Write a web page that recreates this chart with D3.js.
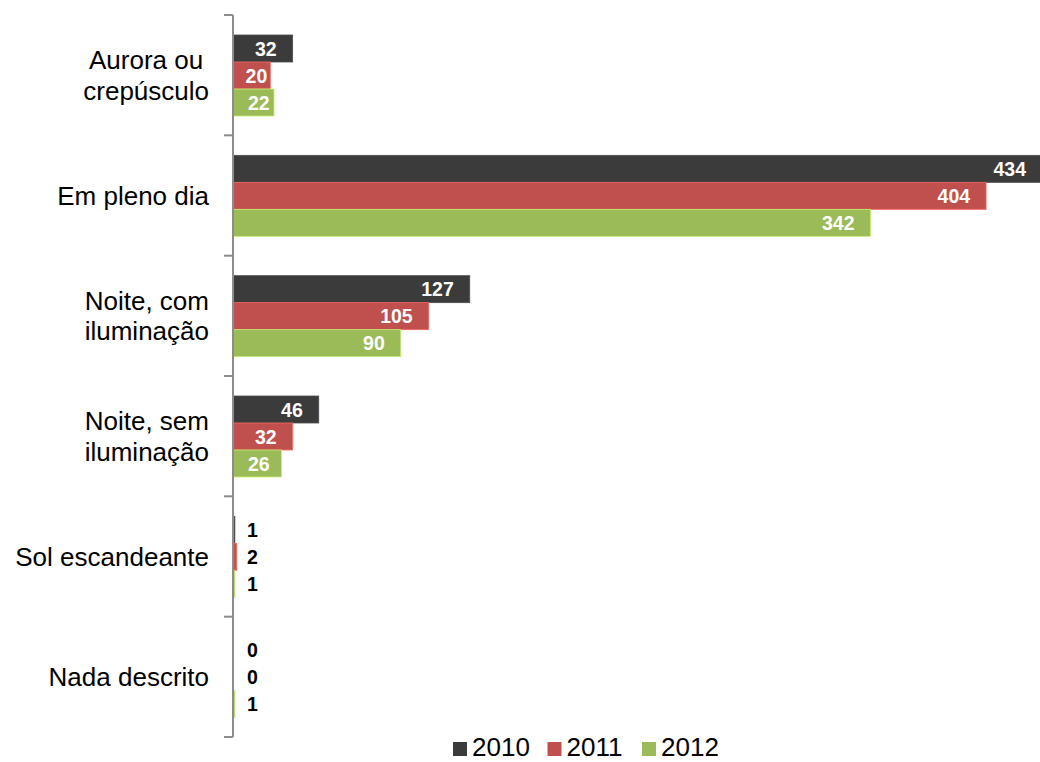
<!DOCTYPE html>
<html>
<head>
<meta charset="utf-8">
<script src="https://cdn.jsdelivr.net/npm/d3@7"></script>
<style>
  body { margin: 0; background: #fff; }
  svg { display: block; }
  svg text { font-family: Arial, Helvetica, "Liberation Sans", sans-serif; }
  .axis line, .axis path { stroke: #8c8c8c; stroke-width: 2; }
  .catLabel { font-size: 26px; fill: #000; }
  .valLabel { font-size: 19.5px; font-weight: bold; }
  .legendText { font-size: 26px; fill: #000; }
</style>
</head>
<body>
<svg id="chart" width="1040" height="762"></svg>
<script>
// chart data
const categories = ['Aurora ou crepúsculo', 'Em pleno dia', 'Noite, com iluminação', 'Noite, sem iluminação', 'Sol escandeante', 'Nada descrito']
const categoryLines = [['Aurora ou', 'crepúsculo'], ['Em pleno dia'], ['Noite, com', 'iluminação'], ['Noite, sem', 'iluminação'], ['Sol escandeante'], ['Nada descrito']]
const years = ['2010', '2011', '2012']
const values2010 = [32, 434, 127, 46, 1, 0]
const values2011 = [20, 404, 105, 32, 2, 0]
const values2012 = [22, 342, 90, 26, 1, 1]
const colors = ['#3b3b3b', '#c0504d', '#9bbb59']

const seriesValues = [values2010, values2011, values2012]
const rows = []
categories.forEach((cat, i) => {
    years.forEach((yr, j) => {
        rows.push({ category: cat, year: yr, value: seriesValues[j][i], color: colors[j] })
    })
})

const svg = d3.select('#chart')

const xScale = d3.scaleLinear().domain([0, 434]).range([233, 1042])
const yScale = d3.scaleBand().domain(categories).range([15, 737]).padding(0)
const yInner = d3.scaleBand().domain(years).range([20, 101]).padding(0)

// bars
svg.selectAll('.bar')
    .data(rows)
    .enter()
    .append('rect')
    .classed('bar', true)
    .attr('x', xScale(0))
    .attr('y', d => yScale(d.category) + yInner(d.year))
    .attr('width', d => xScale(d.value) - xScale(0))
    .attr('height', yInner.bandwidth())
    .attr('fill', d => d.color)
    .attr('stroke', d => d.value > 0 ? d3.color(d.color).brighter(0.7) : 'none')
    .attr('stroke-width', 0.8)

// value labels: white inside the bar end when it fits, otherwise black just right of the axis
const fits = d => xScale(d.value) - xScale(0) > 30
const labels = svg.selectAll('.valLabel')
    .data(rows)
    .enter()
    .append('text')
    .classed('valLabel', true)
    .text(d => d.value)
    .attr('y', d => yScale(d.category) + yInner(d.year) + yInner.bandwidth() / 2)
    .attr('dy', '0.36em')
    .attr('fill', d => fits(d) ? '#fff' : '#000')

labels.each(function(d) {
    const w = this.getComputedTextLength()
    const end = xScale(d.value)
    let left = xScale(0) + 14
    if (fits(d)) {
        left = Math.max(end - 16 - w, xScale(0) + 15)
        left = Math.min(left, end - 3 - w)
    }
    d3.select(this).attr('x', left)
})

// y axis with ticks between categories
const axis = svg.append('g').classed('axis', true)
axis.append('line')
    .attr('x1', 233).attr('x2', 233)
    .attr('y1', yScale.range()[0]).attr('y2', yScale.range()[1])
const tickPos = categories.map(c => yScale(c)).concat([yScale.range()[1]])
axis.selectAll('.tick')
    .data(tickPos)
    .enter()
    .append('line')
    .attr('x1', 224).attr('x2', 233)
    .attr('y1', d => d).attr('y2', d => d)

// category labels, lines centred on each other, block right aligned
const lineHeight = 30.5
categories.forEach((cat, i) => {
    const lines = categoryLines[i]
    const g = svg.append('g')
    const cy = yScale(cat) + yScale.bandwidth() / 2
    const texts = lines.map((ln, k) => g.append('text')
        .classed('catLabel', true)
        .text(ln)
        .attr('y', cy + (k - (lines.length - 1) / 2) * lineHeight)
        .attr('dy', '0.35em')
        .attr('text-anchor', 'middle'))
    const maxW = d3.max(texts, t => t.node().getComputedTextLength())
    texts.forEach(t => t.attr('x', 209 - maxW / 2))
})

// legend
const legend = svg.selectAll('.legendItem')
    .data(years)
    .enter()
    .append('g')
    .classed('legendItem', true)
    .attr('transform', (d, i) => `translate(${453 + i * 94.5}, 0)`)
legend.append('rect')
    .attr('x', 0).attr('y', 742)
    .attr('width', 14).attr('height', 14)
    .attr('fill', (d, i) => colors[i])
legend.append('text')
    .classed('legendText', true)
    .attr('x', 19).attr('y', 756)
    .text(d => d)
</script>
</body>
</html>
